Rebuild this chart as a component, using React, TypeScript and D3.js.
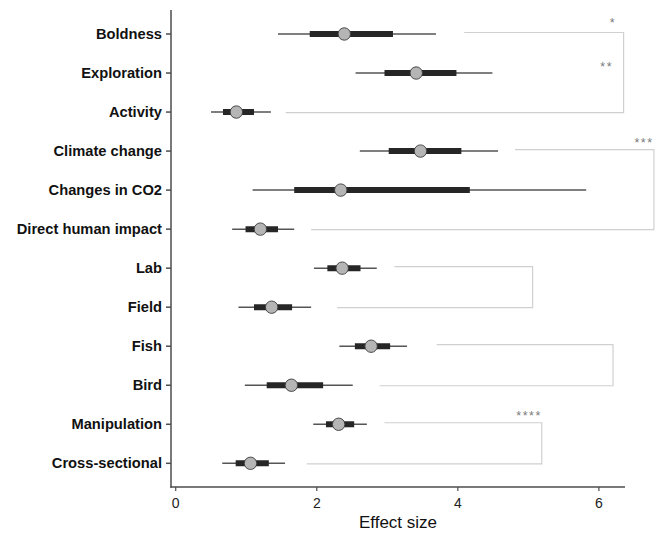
import React from "react";
import * as d3 from "d3";

const categories = [
  "Boldness", "Exploration", "Activity", "Climate change", "Changes in CO2",
  "Direct human impact", "Lab", "Field", "Fish", "Bird", "Manipulation", "Cross-sectional",
];
const estimate = [2.39, 3.41, 0.86, 3.47, 2.34, 1.2, 2.36, 1.36, 2.77, 1.64, 2.31, 1.06];
const inner_lo = [1.9, 2.96, 0.67, 3.02, 1.68, 0.99, 2.15, 1.11, 2.54, 1.29, 2.13, 0.85];
const inner_hi = [3.08, 3.98, 1.11, 4.05, 4.17, 1.45, 2.62, 1.65, 3.04, 2.09, 2.53, 1.32];
const outer_lo = [1.45, 2.55, 0.5, 2.61, 1.09, 0.8, 1.96, 0.89, 2.32, 0.98, 1.95, 0.66];
const outer_hi = [3.69, 4.49, 1.35, 4.57, 5.82, 1.68, 2.85, 1.92, 3.28, 2.51, 2.71, 1.55];

// brackets: top row, bottom row, top line start, bottom line start, right x
const bracketTop = ["Boldness", "Climate change", "Lab", "Fish", "Manipulation"];
const bracketBottom = ["Activity", "Direct human impact", "Field", "Bird", "Cross-sectional"];
const bracketTopStart = [4.09, 4.81, 3.1, 3.7, 2.96];
const bracketBottomStart = [1.56, 1.92, 2.29, 2.89, 1.86];
const bracketRight = [6.35, 6.78, 5.06, 6.2, 5.19];

const sigLabels = ["*", "**", "***", "****"];
const sigRows = ["Boldness", "Exploration", "Climate change", "Manipulation"];
const sigX = [6.2, 6.11, 6.64, 5.01];
const sigDy = [-7, -2, -4, -4];

const xTicks = [0, 2, 4, 6];

export default function App() {
  const W = 664, H = 533;
  const left = 171, right = 625, top = 10, bottom = 487;
  const x = d3.scaleLinear().domain([-0.067, 6.37]).range([left, right]);
  const y = d3.scalePoint<string>().domain(categories).range([34, 463.3]);
  const font = "'Liberation Sans', Arial, Helvetica, sans-serif";
  const axisCol = "#4d4d4d";
  const bracketCol = "#d0d0d0";

  return (
    <svg width={W} height={H} style={{ position: "absolute", left: 0, top: 0, background: "#fff" }}
      fontFamily={font}>
      <rect x={0} y={0} width={W} height={H} fill="#fff" />
      {/* brackets */}
      {bracketTop.map((t, i) => {
        const yt = y(t)! - 1.5;
        const yb = y(bracketBottom[i])! + 0.5;
        const xr = x(bracketRight[i]);
        return (
          <path key={"b" + i}
            d={`M${x(bracketTopStart[i])},${yt}H${xr}V${yb}H${x(bracketBottomStart[i])}`}
            fill="none" stroke={bracketCol} strokeWidth={1.2} />
        );
      })}
      {sigLabels.map((s, i) => (
        <text key={"s" + i} x={x(sigX[i])} y={y(sigRows[i])! + sigDy[i]} textAnchor="middle"
          fontSize={12.5} fill="#7a7a7a" letterSpacing={1.5}>{s}</text>
      ))}
      {/* intervals */}
      {categories.map((c, i) => {
        const yy = y(c)!;
        return (
          <g key={c}>
            <line x1={x(outer_lo[i])} x2={x(outer_hi[i])} y1={yy} y2={yy} stroke="#555" strokeWidth={1.5} />
            <line x1={x(inner_lo[i])} x2={x(inner_hi[i])} y1={yy} y2={yy} stroke="#262626" strokeWidth={6} />
            <circle cx={x(estimate[i])} cy={yy} r={6.2} fill="#b5b5b5" stroke="#3a3a3a" strokeWidth={0.9} />
          </g>
        );
      })}
      {/* axes */}
      <line x1={left} x2={left} y1={top} y2={bottom + 0.75} stroke={axisCol} strokeWidth={1.5} />
      <line x1={left - 0.75} x2={right} y1={bottom} y2={bottom} stroke={axisCol} strokeWidth={1.5} />
      {categories.map((c) => (
        <g key={"yt" + c}>
          <line x1={left - 5} x2={left} y1={y(c)!} y2={y(c)!} stroke={axisCol} strokeWidth={1.5} />
          <text x={left - 9} y={y(c)!} dy="0.35em" textAnchor="end" fontSize={14.7} fontWeight="bold" fill="#111">{c}</text>
        </g>
      ))}
      {xTicks.map((t) => (
        <g key={"xt" + t}>
          <line x1={x(t)} x2={x(t)} y1={bottom} y2={bottom + 4} stroke={axisCol} strokeWidth={1.2} />
          <text x={x(t)} y={503} dy="0.35em" textAnchor="middle" fontSize={14} fill="#222">{t}</text>
        </g>
      ))}
      <text x={(left + right) / 2} y={522} dy="0.35em" textAnchor="middle" fontSize={17} fill="#111">Effect size</text>
    </svg>
  );
}
